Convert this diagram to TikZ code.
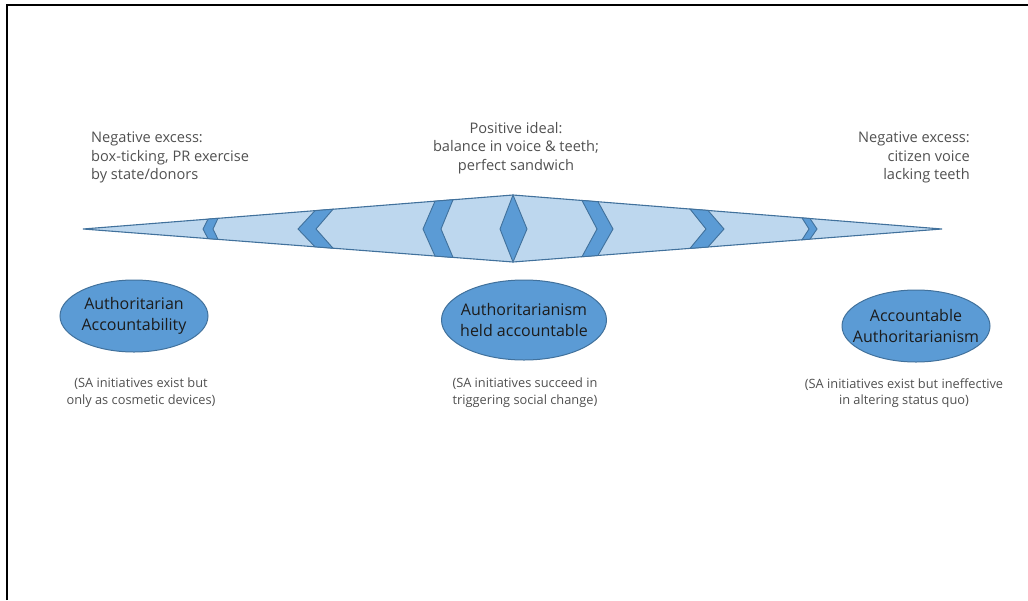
\documentclass[tikz,border=0pt]{standalone}
\usepackage{fontspec}
\setmainfont{Open Sans}
\usetikzlibrary{shapes.geometric}
\definecolor{lightblue}{HTML}{BDD7EE}
\definecolor{midblue}{HTML}{5B9BD5}
\definecolor{edgeblue}{HTML}{41719C}
\definecolor{txtgray}{HTML}{505050}
\definecolor{ovaltxt}{HTML}{1C1C1C}
\begin{document}
\begin{tikzpicture}[x=1pt,y=-1pt,
  kite/.style={fill=lightblue,draw=edgeblue,line width=1.1pt,line join=miter},
  chev/.style={fill=midblue,draw=edgeblue,line width=0.9pt,line join=miter},
  oval/.style={ellipse,fill=midblue,draw=edgeblue,line width=1pt,inner sep=0pt},
  ovaltext/.style={inner sep=0pt,text=ovaltxt,align=center,font=\fontsize{16}{20.5}\selectfont},
  toptext/.style={inner sep=0pt,text=txtgray,font=\fontsize{14.6}{18.5}\selectfont},
  subtext/.style={inner sep=0pt,text=txtgray,align=center,font=\fontsize{12.8}{16.5}\selectfont}]
\useasboundingbox (0,0) rectangle (1028,600);
\draw[line width=2pt] (6.5,600) -- (6.5,5) -- (1028,5);
% outer kite
\coordinate (L) at (83,229);
\coordinate (T) at (513,195);
\coordinate (R) at (942,229);
\coordinate (B) at (513,262);
\draw[kite] (L) -- (T) -- (R) -- (B) -- cycle;
% left chevrons
\foreach \t/\d/\w in {203/5/10, 298/17/18, 423/12/18}{
  \pgfmathsetmacro\xa{\t+\d}
  \pgfmathsetmacro\xb{\t+\d+\w}
  \pgfmathsetmacro\xn{\t+\w}
  \pgfmathsetmacro\ta{229-34*(\xa-83)/430}
  \pgfmathsetmacro\tb{229-34*(\xb-83)/430}
  \pgfmathsetmacro\ba{229+33*(\xa-83)/430}
  \pgfmathsetmacro\bb{229+33*(\xb-83)/430}
  \draw[chev] (\t,229) -- (\xa,\ta) -- (\xb,\tb) -- (\xn,229) -- (\xb,\bb) -- (\xa,\ba) -- cycle;
}
% right chevrons
\foreach \t/\d/\w in {613/15/16, 724/16/18, 817/7/8}{
  \pgfmathsetmacro\xa{\t-\d-\w}
  \pgfmathsetmacro\xb{\t-\d}
  \pgfmathsetmacro\xn{\t-\w}
  \pgfmathsetmacro\ta{195+34*(\xa-513)/429}
  \pgfmathsetmacro\tb{195+34*(\xb-513)/429}
  \pgfmathsetmacro\ba{262-33*(\xa-513)/429}
  \pgfmathsetmacro\bb{262-33*(\xb-513)/429}
  \draw[chev] (\t,229) -- (\xb,\tb) -- (\xa,\ta) -- (\xn,229) -- (\xa,\ba) -- (\xb,\bb) -- cycle;
}
% centre diamond
\draw[chev] (500,229) -- (T) -- (527,229) -- (B) -- cycle;
% top texts
\node[toptext,anchor=north west,align=left] (negl) at (91,132) {Negative excess:\\box-ticking, PR exercise\\by state/donors};
\node[toptext,anchor=north,align=center] (pos) at (516,122) {Positive ideal:\\balance in voice \& teeth;\\perfect sandwich};
\node[toptext,anchor=north east,align=right] (negr) at (970,132) {Negative excess:\\citizen voice\\lacking teeth};
% ovals
\node[oval,minimum width=148pt,minimum height=72pt] (aa) at (134,316) {};
\node[ovaltext] (aat) at (aa) {Authoritarian\\Accountability};
\node[oval,minimum width=165pt,minimum height=80pt] (ha) at (524,320) {};
\node[ovaltext] (hat) at (ha) {Authoritarianism\\held accountable};
\node[oval,minimum width=148pt,minimum height=72pt] (ac) at (916,326) {};
\node[ovaltext] (act) at (ac) {Accountable\\Authoritarianism};
% sub texts
\node[subtext,anchor=north] (sa1) at (141,378) {(SA initiatives exist but\\only as cosmetic devices)};
\node[subtext,anchor=north] (sa2) at (525,378) {(SA initiatives succeed in\\triggering social change)};
\node[subtext,anchor=north] (sa3) at (904,378) {(SA initiatives exist but ineffective\\in altering status quo)};
\end{tikzpicture}
\end{document}
